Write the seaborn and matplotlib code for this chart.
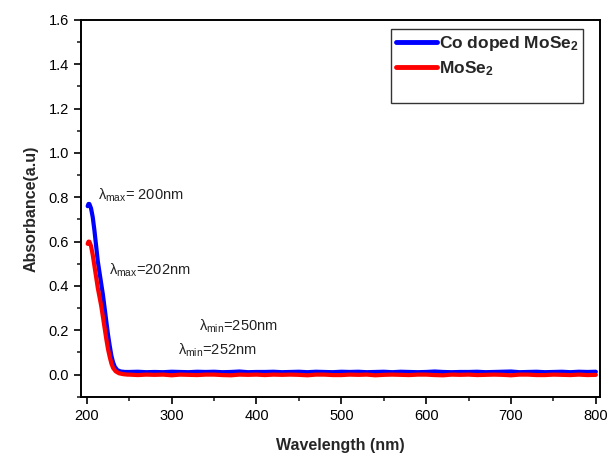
import matplotlib.pyplot as plt
import seaborn as sns
import pandas as pd
import numpy as np
from matplotlib.lines import Line2D
from matplotlib.ticker import MultipleLocator

# absorption edge
edge_wl_co = [201, 202, 203, 205, 207, 209, 211, 213, 215, 217, 219, 221, 223,
              225, 227, 229, 231, 233, 236, 240, 245]
edge_abs_co = [0.76, 0.77, 0.77, 0.75, 0.71, 0.65, 0.58, 0.51, 0.46, 0.41, 0.36,
               0.30, 0.24, 0.18, 0.13, 0.085, 0.055, 0.035, 0.020, 0.014, 0.012]

edge_wl_pure = [201, 202, 203, 205, 207, 209, 211, 213, 215, 217, 219, 221, 223,
                225, 227, 229, 231, 234, 238, 243, 248]
edge_abs_pure = [0.59, 0.60, 0.60, 0.58, 0.54, 0.49, 0.44, 0.39, 0.35, 0.31, 0.26,
                 0.21, 0.16, 0.115, 0.08, 0.05, 0.03, 0.015, 0.006, 0.002, 0.0]

# flat noisy baseline, 250-800 nm every 10 nm
base_wl = list(range(250, 801, 10))
base_abs_co = [0.012, 0.013, 0.011, 0.012, 0.011, 0.013, 0.012, 0.011, 0.013, 0.012,
               0.013, 0.011, 0.012, 0.014, 0.011, 0.012, 0.012, 0.013, 0.011, 0.012,
               0.013, 0.011, 0.013, 0.012, 0.011, 0.013, 0.012, 0.013, 0.011, 0.012,
               0.013, 0.011, 0.013, 0.012, 0.011, 0.012, 0.014, 0.012, 0.011, 0.012,
               0.012, 0.013, 0.011, 0.012, 0.013, 0.014, 0.011, 0.012, 0.013, 0.011,
               0.012, 0.013, 0.011, 0.013, 0.012, 0.013]
base_abs_pure = [0.000, -0.002, 0.000, -0.001, 0.000, -0.003, 0.000, -0.001, -0.002, 0.000,
                 0.000, -0.002, -0.003, 0.000, -0.001, 0.000, -0.002, 0.000, -0.001, 0.000,
                 -0.001, -0.003, 0.000, 0.000, -0.002, -0.002, 0.000, -0.001, 0.000, -0.003,
                 -0.001, 0.000, -0.001, -0.002, 0.000, 0.000, -0.002, -0.003, 0.000, -0.001,
                 0.000, -0.002, -0.001, 0.000, -0.001, -0.003, 0.000, 0.000, -0.002, -0.002,
                 0.000, -0.001, -0.002, 0.000, -0.002, -0.001]

labels = [r'Co doped MoSe$_\mathbf{2}$', r'MoSe$_\mathbf{2}$']
colors = ['#0000ff', '#ff0000']

df_co = pd.DataFrame({'wl': edge_wl_co + base_wl, 'abs': edge_abs_co + base_abs_co})
df_pure = pd.DataFrame({'wl': edge_wl_pure + base_wl, 'abs': edge_abs_pure + base_abs_pure})

sns.set_style('ticks')
plt.rcParams['font.family'] = ['Liberation Sans', 'DejaVu Sans']
plt.rcParams['mathtext.fontset'] = 'custom'
plt.rcParams['mathtext.rm'] = 'Liberation Sans'
plt.rcParams['mathtext.bf'] = 'Liberation Sans:bold'
plt.rcParams['mathtext.it'] = 'Liberation Sans:italic'

fig = plt.figure(figsize=(6.08, 4.54), dpi=100)
ax = fig.add_axes([0.133, 0.126, 0.854, 0.830])

sns.lineplot(data=df_co, x='wl', y='abs', color=colors[0], lw=3.0, ax=ax,
             estimator=None, sort=False)
sns.lineplot(data=df_pure, x='wl', y='abs', color=colors[1], lw=3.0, ax=ax,
             estimator=None, sort=False)

ax.set_xlim(193, 805)
ax.set_ylim(-0.1, 1.6)
ax.xaxis.set_major_locator(MultipleLocator(100))
ax.xaxis.set_minor_locator(MultipleLocator(50))
ax.yaxis.set_major_locator(MultipleLocator(0.2))
ax.yaxis.set_minor_locator(MultipleLocator(0.1))
ax.tick_params(which='major', length=5, width=1.2, labelsize=10.5, colors='black')
ax.tick_params(which='minor', length=3, width=1.2)
for s in ax.spines.values():
    s.set_linewidth(1.4)
    s.set_color('black')

ax.set_xlabel('Wavelength (nm)', fontsize=11.5, fontweight='bold', labelpad=11)
ax.set_ylabel('Absorbance(a.u)', fontsize=11.5, fontweight='bold', labelpad=7)

# annotations
txt_color = '#222222'
ax.text(213, 0.81, r'λ$_{\rm max}$= 200nm', fontsize=10.5, color=txt_color, va='center')
ax.text(226, 0.47, r'λ$_{\rm max}$=202nm', fontsize=10.5, color=txt_color, va='center')
ax.text(332, 0.22, r'λ$_{\rm min}$=250nm', fontsize=10.5, color=txt_color, va='center')
ax.text(308, 0.11, r'λ$_{\rm min}$=252nm', fontsize=10.5, color=txt_color, va='center')

handles = [Line2D([], [], color=colors[0], lw=3.5),
           Line2D([], [], color=colors[1], lw=3.5),
           Line2D([], [], color='none')]
leg = ax.legend(handles, labels + [' '], loc='upper right',
                bbox_to_anchor=(0.967, 0.975), frameon=True, fancybox=False,
                edgecolor='#333333', framealpha=1, borderpad=0.25,
                handlelength=2.4, handletextpad=0.1, labelspacing=0.35,
                borderaxespad=0, prop={'weight': 'bold', 'size': 12.5})
leg.get_frame().set_linewidth(1.0)

fig.savefig('out.png', dpi=100)
